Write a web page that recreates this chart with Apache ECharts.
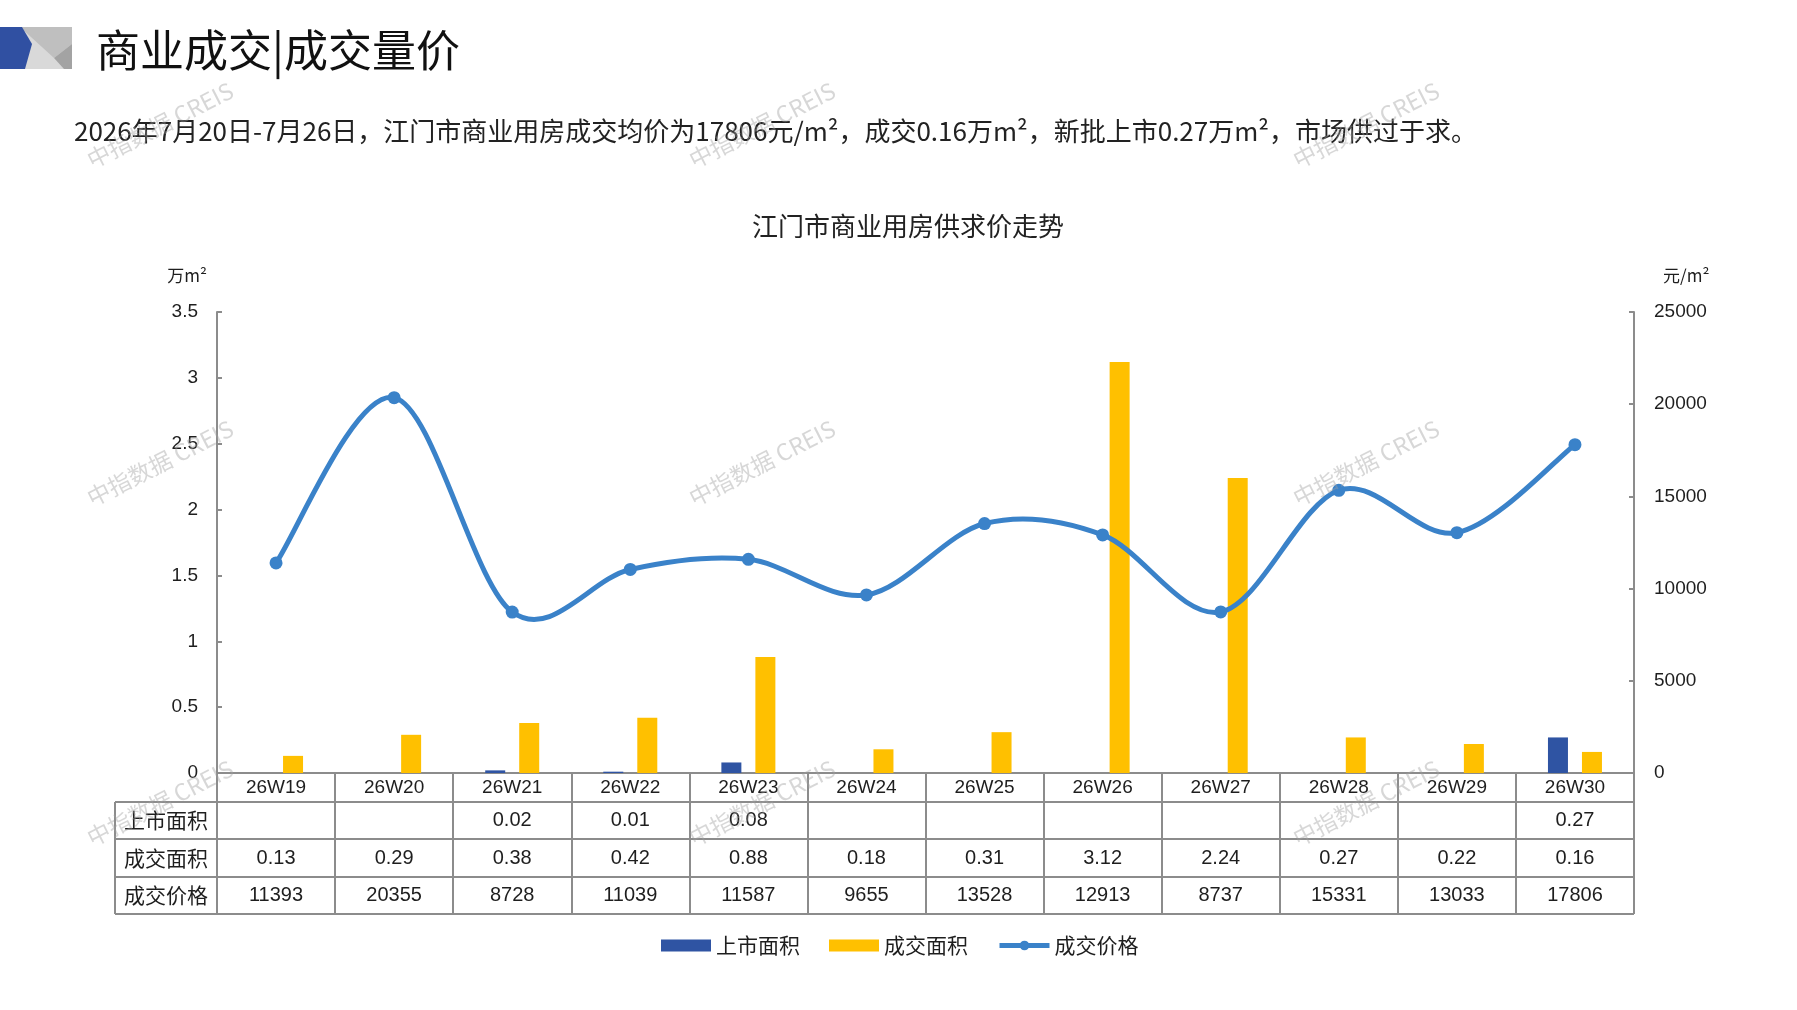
<!DOCTYPE html>
<html>
<head>
<meta charset="utf-8">
<script src="https://cdn.jsdelivr.net/npm/echarts@6.0.0/dist/echarts.min.js"></script>
<style>
html,body{margin:0;padding:0;background:#fff;}
#chart{width:1797px;height:1010px;}
</style>
</head>
<body>
<div id="chart"></div>
<script>
// ---- data ----
var categories = ['26W19','26W20','26W21','26W22','26W23','26W24','26W25','26W26','26W27','26W28','26W29','26W30'];
var listedArea = [null,null,0.02,0.01,0.08,null,null,null,null,null,null,0.27];   // 上市面积 (万m²)
var soldArea   = [0.13,0.29,0.38,0.42,0.88,0.18,0.31,3.12,2.24,0.27,0.22,0.16];   // 成交面积 (万m²)
var soldPrice  = [11393,20355,8728,11039,11587,9655,13528,12913,8737,15331,13033,17806]; // 成交价格 (元/m²)
var seriesNames = ['上市面积','成交面积','成交价格'];
var headerTitle = '商业成交|成交量价';
var subTitle = '2026年7月20日-7月26日，江门市商业用房成交均价为17806元/m²，成交0.16万m²，新批上市0.27万m²，市场供过于求。';
var chartTitle = '江门市商业用房供求价走势';
var watermark = '中指数据 CREIS';

// ---- layout ----
var W = 1797, H = 1010;
var GL = 217, GR = 1634, GT = 312, GB = 773;
var TABLE_LEFT = 115;
var rowLines = [802, 839, 877, 914];
var AXIS_COLOR = '#8c8c8c';
var TEXT_COLOR = '#1e1e1e';
var LINE_COLOR = '#3a82c9';
var CJK = '"Noto Sans CJK SC", "Noto Sans", sans-serif';
var NUM = '"Liberation Sans", Arial, sans-serif';

var chart = echarts.init(document.getElementById('chart'), null, {renderer:'canvas', width:W, height:H});

function fmtArea(v){ return (v === null || v === undefined) ? '' : v.toFixed(2); }
function fmtPrice(v){ return (v === null || v === undefined) ? '' : String(v); }
var rowValues = [listedArea.map(fmtArea), soldArea.map(fmtArea), soldPrice.map(fmtPrice)];

// table rows as extra category axes
var xAxes = [{
  type:'category', data:categories, gridIndex:0, position:'bottom',
  axisLine:{show:true, lineStyle:{color:AXIS_COLOR, width:2}},
  axisTick:{show:true, interval:0, length:rowLines[3]-GB, lineStyle:{color:AXIS_COLOR, width:2}},
  axisLabel:{interval:0, margin:(rowLines[0]-GB)/2, verticalAlign:'middle', fontSize:19, color:TEXT_COLOR, fontFamily:NUM},
  splitLine:{show:false}
}];
for (var r = 0; r < 3; r++) {
  (function(r){
    var top = rowLines[r], bottom = rowLines[r+1];
    xAxes.push({
      type:'category', data:categories, gridIndex:0, position:'bottom',
      offset: top - GB,
      axisLine:{show:false}, axisTick:{show:false}, splitLine:{show:false},
      axisLabel:{interval:0, margin:(bottom-top)/2, verticalAlign:'middle', fontSize:20, color:TEXT_COLOR, fontFamily:NUM,
        formatter:function(v, idx){ return rowValues[r][idx]; }}
    });
  })(r);
}

var graphics = [];
// logo
graphics.push({type:'rect', shape:{x:20,y:27,width:52,height:42}, style:{fill:'#d9d9d9'}, z:10});
graphics.push({type:'polygon', shape:{points:[[20,27],[72,27],[72,44],[54,58]]}, style:{fill:'#bfbfbf'}, z:11});
graphics.push({type:'polygon', shape:{points:[[72,44],[54,58],[64,69],[72,69]]}, style:{fill:'#a3a3a3'}, z:11});
graphics.push({type:'polygon', shape:{points:[[0,27],[22,27],[32,44],[25,69],[0,69]]}, style:{fill:'#3050a2'}, z:12});
// header title & subtitle
graphics.push({type:'text', x:96, y:50, style:{text:headerTitle, font:'400 44px ' + CJK, fill:'#111', textVerticalAlign:'middle'}, z:10});
graphics.push({type:'text', x:74, y:131, style:{text:subTitle, font:'400 26px ' + CJK, fill:'#222', textVerticalAlign:'middle'}, z:10});
graphics.push({type:'text', x:908, y:226, style:{text:chartTitle, font:'400 26px ' + CJK, fill:'#222', textAlign:'center', textVerticalAlign:'middle'}, z:10});
// table borders
rowLines.forEach(function(y){
  graphics.push({type:'line', shape:{x1:TABLE_LEFT, y1:y, x2:GR, y2:y}, style:{stroke:AXIS_COLOR, lineWidth:2}, z:5});
});
graphics.push({type:'line', shape:{x1:TABLE_LEFT, y1:rowLines[0], x2:TABLE_LEFT, y2:rowLines[3]}, style:{stroke:AXIS_COLOR, lineWidth:2}, z:5});
// row headers
seriesNames.forEach(function(name, i){
  graphics.push({type:'text', x:(TABLE_LEFT+GL)/2, y:(rowLines[i]+rowLines[i+1])/2,
    style:{text:name, font:'400 21px ' + CJK, fill:TEXT_COLOR, textAlign:'center', textVerticalAlign:'middle'}, z:10});
});
// watermarks
[160, 762, 1366].forEach(function(x){
  [125, 463, 803].forEach(function(y){
    graphics.push({type:'text', x:x, y:y, rotation:0.47,
      style:{text:watermark, font:'400 23px ' + CJK, fill:'rgba(160,160,160,0.42)', textAlign:'center', textVerticalAlign:'middle'},
      z:100, silent:true});
  });
});

// smooth price curve (Excel-like cardinal spline through the data points, via axis coordinates)
var n = soldPrice.length;
function renderCurve(params, api) {
  var i = params.dataIndex;
  if (i >= n - 1) return {type:'group', children:[]};
  function P(j){ j = Math.max(0, Math.min(n - 1, j)); return api.coord([j, soldPrice[j]]); }
  var p0 = P(i - 1), p1 = P(i), p2 = P(i + 1), p3 = P(i + 2);
  var k = 1 / 6;
  return {
    type:'bezierCurve',
    shape:{
      x1:p1[0], y1:p1[1], x2:p2[0], y2:p2[1],
      cpx1:p1[0] + (p2[0] - p0[0]) * k, cpy1:p1[1] + (p2[1] - p0[1]) * k,
      cpx2:p2[0] - (p3[0] - p1[0]) * k, cpy2:p2[1] - (p3[1] - p1[1]) * k
    },
    style:{stroke:LINE_COLOR, lineWidth:5, fill:null, lineCap:'round'}
  };
}

var option = {
  animation:false,
  backgroundColor:'#ffffff',
  grid:{left:GL, right:W-GR, top:GT, bottom:H-GB, containLabel:false},
  legend:{
    left:656, top:930, itemWidth:50, itemHeight:12, itemGap:29,
    textStyle:{fontSize:21, color:TEXT_COLOR, fontFamily:CJK},
    data:[
      {name:seriesNames[0], icon:'rect'},
      {name:seriesNames[1], icon:'rect'},
      {name:seriesNames[2], lineStyle:{opacity:1, width:5, color:LINE_COLOR}}
    ]
  },
  xAxis:xAxes,
  yAxis:[{
    type:'value', min:0, max:3.5, interval:0.5, position:'left',
    name:'万m²', nameLocation:'end', nameGap:28,
    nameTextStyle:{fontSize:17, color:TEXT_COLOR, fontFamily:CJK, align:'right', padding:[0,10,0,0]},
    axisLine:{show:true, lineStyle:{color:AXIS_COLOR, width:2}},
    axisTick:{show:true, inside:true, length:5, lineStyle:{color:AXIS_COLOR, width:2}},
    axisLabel:{margin:19, fontSize:19, color:TEXT_COLOR, fontFamily:NUM},
    splitLine:{show:false}
  },{
    type:'value', min:0, max:25000, interval:5000, position:'right',
    name:'元/m²', nameLocation:'end', nameGap:28,
    nameTextStyle:{fontSize:17, color:TEXT_COLOR, fontFamily:CJK, align:'left', padding:[0,0,0,29]},
    axisLine:{show:true, lineStyle:{color:AXIS_COLOR, width:2}},
    axisTick:{show:true, inside:true, length:5, lineStyle:{color:AXIS_COLOR, width:2}},
    axisLabel:{margin:20, fontSize:19, color:TEXT_COLOR, fontFamily:NUM, formatter:function(v){ return String(v); }},
    splitLine:{show:false}
  }],
  series:[{
    name:seriesNames[0], type:'bar', xAxisIndex:0, yAxisIndex:0, data:listedArea,
    barWidth:20, barGap:'70%', itemStyle:{color:'#2f54a3'}
  },{
    name:seriesNames[1], type:'bar', xAxisIndex:0, yAxisIndex:0, data:soldArea,
    barWidth:20, barGap:'70%', itemStyle:{color:'#ffc000'}
  },{
    name:'priceCurve', type:'custom', xAxisIndex:0, yAxisIndex:1,
    data:soldPrice.map(function(v, i){ return [i, v]; }),
    encode:{x:0, y:1}, renderItem:renderCurve, z:4, silent:true
  },{
    name:seriesNames[2], type:'line', xAxisIndex:0, yAxisIndex:1, data:soldPrice,
    symbol:'circle', symbolSize:13,
    lineStyle:{color:LINE_COLOR, width:5, opacity:0}, itemStyle:{color:LINE_COLOR}, z:5
  }],
  graphic:graphics
};
chart.setOption(option);
</script>
</body>
</html>
